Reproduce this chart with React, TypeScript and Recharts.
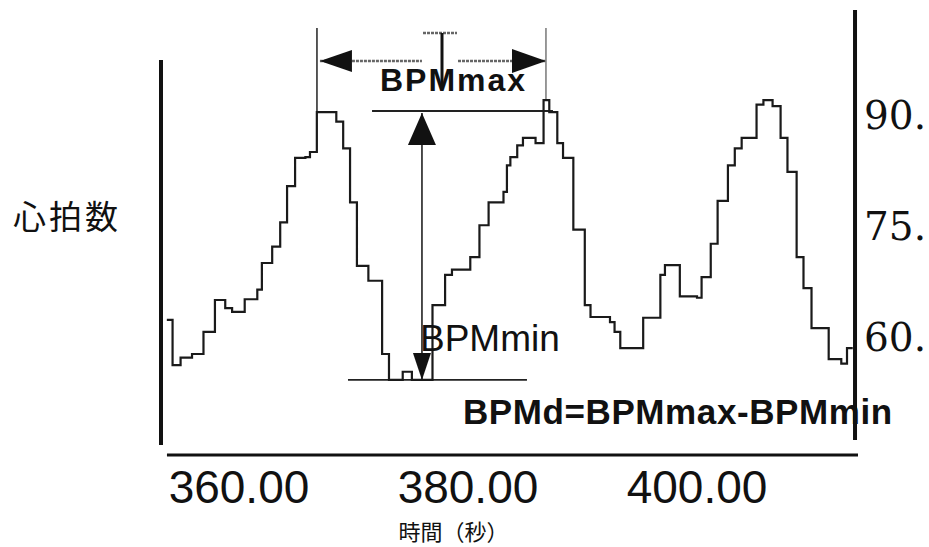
import React from 'react';
import { LineChart, Line, XAxis, YAxis, ReferenceLine, ReferenceDot } from 'recharts';

// time (s) at which each heart-rate step begins
const times = [353.7, 354.2, 354.9, 355.9, 356.9, 357.9, 358.8, 359.4, 360.5, 361.6, 362.0, 362.9, 363.6, 364.2, 364.9, 365.8, 366.2, 366.8, 368.5, 369.1, 369.7, 370.3, 371.3, 372.5, 373.1, 374.3, 375.1, 376.9, 378.0, 378.6, 380.2, 381.0, 381.8, 383.1, 383.4, 383.7, 384.3, 384.8, 385.9, 386.6, 387.1, 387.8, 388.3, 389.2, 390.2, 390.7, 392.4, 392.8, 393.3, 395.3, 396.8, 397.2, 398.5, 400.0, 400.4, 401.2, 401.8, 402.7, 403.3, 403.9, 405.2, 405.8, 406.6, 407.3, 407.9, 408.7, 409.3, 410.0, 411.5, 412.6, 413.1, 413.6];
// heart rate (BPM)
const bpm = [62.3, 56.2, 57.2, 57.7, 60.7, 65.0, 63.9, 63.4, 65.1, 66.4, 70.0, 72.2, 75.5, 80.4, 84.2, 84.3, 85.0, 90.4, 89.1, 85.5, 78.2, 69.6, 67.6, 57.7, 54.2, 55.3, 54.2, 64.3, 68.4, 69.1, 70.8, 75.1, 78.2, 79.6, 83.2, 84.3, 85.9, 86.9, 86.2, 92.0, 90.4, 86.2, 84.2, 74.5, 64.3, 62.7, 62.0, 60.7, 58.5, 62.6, 68.4, 69.7, 65.5, 65.3, 68.1, 72.6, 78.4, 83.2, 85.5, 86.9, 91.4, 92.0, 91.2, 86.9, 82.3, 70.8, 66.6, 61.2, 57.0, 56.4, 58.5, 58.5];

const xTicks = [360, 380, 400];
const yTicks = [60, 75, 90];
const xDomain: [number, number] = [353.19, 414.06];
const yDomain: [number, number] = [44.05, 104.19];

// annotation anchors (data coordinates)
const periodStart = 366.81;
const periodEnd = 386.81;
const guideTop = 101.76;
const arrowY = 97.3;
const bpmMax = 90.54;
const bpmMin = 54.19;
const vArrowX = 375.98;

const yLabel = '心拍数';
const xLabel = '時間（秒）';
const maxText = 'BPMmax';
const minText = 'BPMmin';
const formulaText = 'BPMd=BPMmax-BPMmin';

const data = times.map((t, i) => ({ t, bpm: bpm[i] }));

type Head = { len: number; half: number } | null;

const arrowShape = (startHead: Head, endHead: Head, color: string, width: number, dash?: string) => (p: any) => {
  const { x1, y1, x2, y2 } = p;
  const dx = x2 - x1;
  const dy = y2 - y1;
  const L = Math.hypot(dx, dy) || 1;
  const ux = dx / L;
  const uy = dy / L;
  const nx = -uy;
  const ny = ux;
  const head = (tx: number, ty: number, dirx: number, diry: number, h: { len: number; half: number }) => {
    const bx = tx - dirx * h.len;
    const by = ty - diry * h.len;
    return `${tx},${ty} ${bx + nx * h.half},${by + ny * h.half} ${bx - nx * h.half},${by - ny * h.half}`;
  };
  return (
    <g>
      <line x1={x1} y1={y1} x2={x2} y2={y2} stroke={color} strokeWidth={width} strokeDasharray={dash} />
      {startHead && <polygon points={head(x1, y1, -ux, -uy, startHead)} fill="#111" />}
      {endHead && <polygon points={head(x2, y2, ux, uy, endHead)} fill="#111" />}
    </g>
  );
};

const textShape = (txt: string, size: number, weight: number, spacing = 0) => (p: any) => (
  <text
    x={p.cx}
    y={p.cy}
    fontSize={size}
    fontWeight={weight}
    fontFamily="Liberation Sans, Arial, sans-serif"
    letterSpacing={spacing}
    fill="#111"
  >
    {txt}
  </text>
);

export default function App() {
  return (
    <div style={{ position: 'absolute', left: 0, top: 0, background: '#fff' }}>
      <LineChart width={929} height={547} data={data} margin={{ top: 10, right: 0, bottom: 0, left: 0 }}>
        <XAxis
          type="number"
          dataKey="t"
          domain={xDomain}
          ticks={xTicks}
          interval={0}
          allowDataOverflow
          tickFormatter={(v: number) => v.toFixed(2)}
          tick={{ fontSize: 46, fontFamily: 'Liberation Sans, Arial, sans-serif', fill: '#111' }}
          tickLine={false}
          axisLine={false}
          tickSize={0}
          tickMargin={15}
          height={92}
          label={{
            value: xLabel,
            position: 'insideBottom',
            offset: 7,
            dx: -56,
            fontSize: 22,
            fontFamily: 'Noto Sans CJK JP',
            fill: '#111',
          }}
        />
        <YAxis
          yAxisId="L"
          orientation="left"
          width={161}
          domain={yDomain}
          allowDataOverflow
          tick={false}
          tickLine={false}
          axisLine={false}
          label={{
            value: yLabel,
            position: 'insideLeft',
            offset: 13,
            dy: -15,
            fontSize: 33,
            letterSpacing: 3,
            fontFamily: 'Noto Sans CJK JP',
            fill: '#111',
          }}
        />
        <YAxis
          yAxisId="R"
          orientation="right"
          width={71}
          domain={yDomain}
          ticks={yTicks}
          interval={0}
          allowDataOverflow
          tickFormatter={(v: number) => `${v}.`}
          tick={{ fontSize: 39, fontFamily: 'DejaVu Serif, serif', fill: '#111' }}
          tickLine={false}
          axisLine={false}
          tickSize={0}
          tickMargin={6}
        />

        {/* frame lines */}
        <ReferenceLine yAxisId="R" ifOverflow="visible" segment={[{ x: 353.19, y: 97.43 }, { x: 353.19, y: 45.41 }]} stroke="#111" strokeWidth={4} />
        <ReferenceLine yAxisId="R" ifOverflow="visible" segment={[{ x: 413.8, y: 104.19 }, { x: 413.8, y: 46.08 }]} stroke="#111" strokeWidth={4} />
        <ReferenceLine yAxisId="R" ifOverflow="visible" segment={[{ x: 353.71, y: 44.05 }, { x: 414.06, y: 44.05 }]} stroke="#111" strokeWidth={3} />

        {/* guide verticals for period */}
        <ReferenceLine yAxisId="R" ifOverflow="visible" segment={[{ x: periodStart, y: guideTop }, { x: periodStart, y: 90.41 }]} stroke="#222" strokeWidth={1.5} />
        <ReferenceLine yAxisId="R" ifOverflow="visible" segment={[{ x: periodEnd, y: guideTop }, { x: periodEnd, y: 92.03 }]} stroke="#555" strokeWidth={1.2} />

        {/* horizontal double arrow (period) */}
        <ReferenceLine
          yAxisId="R"
          ifOverflow="visible"
          segment={[{ x: 367.07, y: arrowY }, { x: 375.98, y: arrowY }]}
          shape={arrowShape({ len: 32, half: 11 }, null, '#666', 2.4, '3 1')}
        />
        <ReferenceLine
          yAxisId="R"
          ifOverflow="visible"
          segment={[{ x: 379.13, y: arrowY }, { x: periodEnd, y: arrowY }]}
          shape={arrowShape(null, { len: 34, half: 12 }, '#666', 2.4, '3 1')}
        />
        {/* T symbol */}
        <ReferenceLine yAxisId="R" ifOverflow="visible" segment={[{ x: 376.07, y: 101.08 }, { x: 379.04, y: 101.08 }]} stroke="#666" strokeWidth={2.6} strokeDasharray="3 1" />
        <ReferenceLine yAxisId="R" ifOverflow="visible" segment={[{ x: 377.73, y: 101.08 }, { x: 377.73, y: 93.7 }]} stroke="#111" strokeWidth={3} />

        {/* BPMmax / BPMmin levels */}
        <ReferenceLine yAxisId="R" ifOverflow="visible" segment={[{ x: 371.62, y: bpmMax }, { x: 387.42, y: bpmMax }]} stroke="#222" strokeWidth={1.8} />
        <ReferenceLine yAxisId="R" ifOverflow="visible" segment={[{ x: 369.52, y: bpmMin }, { x: 385.15, y: bpmMin }]} stroke="#222" strokeWidth={1.8} />
        <ReferenceLine
          yAxisId="R"
          ifOverflow="visible"
          segment={[{ x: vArrowX, y: 90.27 }, { x: vArrowX, y: bpmMin }]}
          shape={arrowShape({ len: 32, half: 14 }, { len: 27, half: 9 }, '#222', 1.6)}
        />

        <Line
          yAxisId="R"
          type="stepAfter"
          dataKey="bpm"
          stroke="#1a1a1a"
          strokeWidth={2.2}
          dot={false}
          activeDot={false}
          isAnimationActive={false}
        />

        {/* texts */}
        <ReferenceDot yAxisId="R" ifOverflow="visible" x={372.31} y={93.31} r={0} shape={textShape(maxText, 32, 700, 2)} />
        <ReferenceDot yAxisId="R" ifOverflow="visible" x={375.81} y={58.11} r={0} shape={textShape(minText, 37, 400)} />
        <ReferenceDot yAxisId="R" ifOverflow="visible" x={379.56} y={48.18} r={0} shape={textShape(formulaText, 35, 700, 0.6)} />
      </LineChart>
    </div>
  );
}
